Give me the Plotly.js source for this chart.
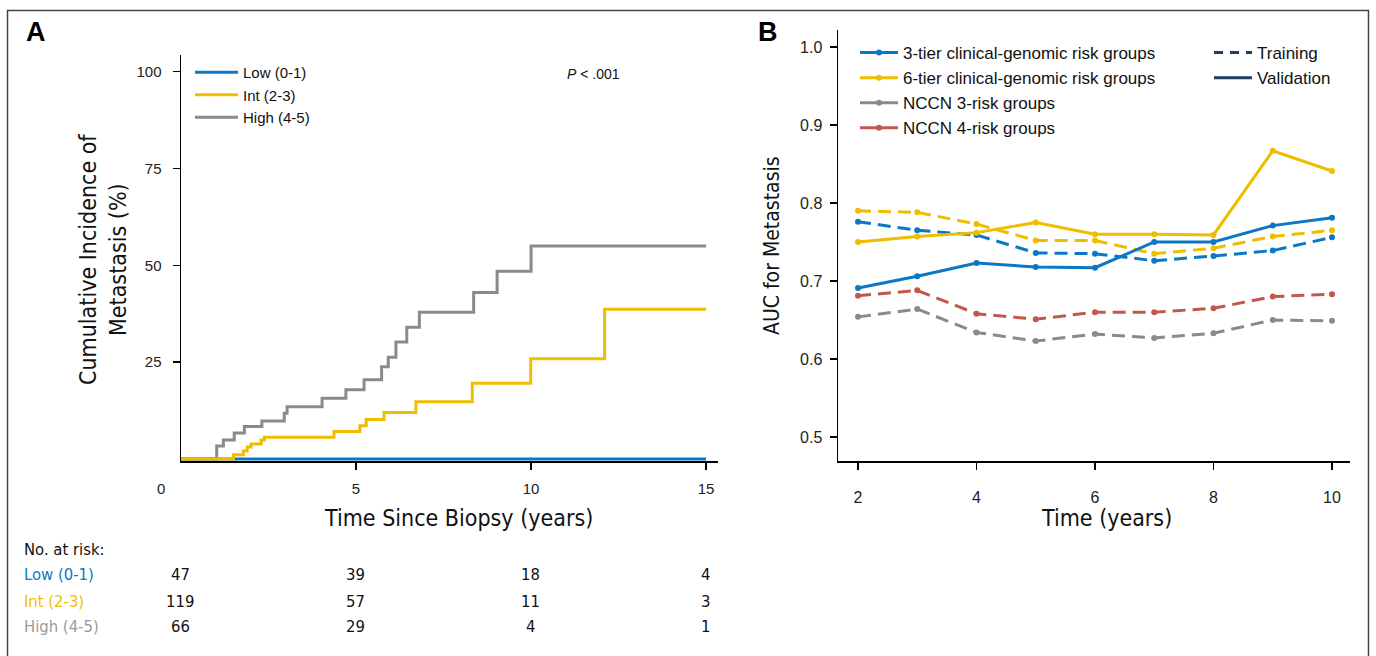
<!DOCTYPE html>
<html>
<head>
<meta charset="utf-8">
<script src="https://cdn.plot.ly/plotly-3.0.1.min.js"></script>
<style>html,body{margin:0;padding:0;background:#fff;}#chart{width:1376px;height:656px;}</style>
</head>
<body>
<div id="chart"></div>
<script>
// ---------- Panel A: cumulative incidence (step curves) ----------
const timeLow = [0, 15];
const incLow  = [0, 0];
const timeInt = [0, 1.5, 1.78, 1.89, 2.0, 2.29, 2.38, 4.37, 5.11, 5.29, 5.8, 6.71, 8.32, 9.99, 12.1, 15];
const incInt  = [0, 1.1, 2.1, 3.1, 3.9, 4.9, 5.6, 7.1, 8.6, 10.2, 12.0, 14.8, 19.6, 25.9, 38.7, 38.7];
const timeHigh = [0, 1.02, 1.21, 1.52, 1.81, 2.31, 2.95, 3.03, 4.03, 4.71, 5.23, 5.73, 5.92, 6.14, 6.45, 6.81, 8.36, 9.03, 10.0, 15];
const incHigh  = [0, 3.4, 4.9, 6.7, 8.4, 9.8, 11.8, 13.5, 15.7, 17.9, 20.5, 23.8, 26.3, 30.2, 34.0, 37.9, 43.0, 48.5, 55.0, 55.0];
const groupNames = ["Low (0-1)", "Int (2-3)", "High (4-5)"];

// Number at risk table
const riskTimes = [0, 5, 10, 15];
const riskLow  = [47, 39, 18, 4];
const riskInt  = [119, 57, 11, 3];
const riskHigh = [66, 29, 4, 1];

// ---------- Panel B: AUC over time ----------
const years = [2, 3, 4, 5, 6, 7, 8, 9, 10];
const tier3Train = [0.776, 0.765, 0.759, 0.736, 0.735, 0.726, 0.732, 0.739, 0.756];
const tier3Valid = [0.691, 0.706, 0.723, 0.718, 0.717, 0.750, 0.750, 0.771, 0.781];
const tier6Train = [0.790, 0.788, 0.773, 0.752, 0.752, 0.735, 0.742, 0.757, 0.765];
const tier6Valid = [0.750, 0.757, 0.762, 0.775, 0.760, 0.760, 0.759, 0.867, 0.841];
const nccn3Train = [0.654, 0.664, 0.634, 0.623, 0.632, 0.627, 0.633, 0.650, 0.649];
const nccn4Train = [0.681, 0.688, 0.658, 0.651, 0.660, 0.660, 0.665, 0.680, 0.683];
const seriesNames = ["3-tier clinical-genomic risk groups", "6-tier clinical-genomic risk groups", "NCCN 3-risk groups", "NCCN 4-risk groups"];
const cohortNames = ["Training", "Validation"];

// ---------- styling ----------
const W = 1376, H = 656;
const BLUE = "#0b78c4", YEL = "#efbd00", GREY = "#8a8a8a", RED = "#c2584d", NAVY = "#1b3d63";
const SANS = "Liberation Sans, Arial, Helvetica, sans-serif";
const NARROW = "Liberation Sans Narrow, Arial Narrow, DejaVu Sans Condensed, Roboto, sans-serif";
const px = v => v / W;
const py = v => 1 - v / H;
const DASH = "13px,7px";

const traces = [];
// Panel A
traces.push({x: timeLow, y: incLow, type: "scatter", mode: "lines", line: {color: BLUE, width: 3, shape: "hv"}, name: groupNames[0], xaxis: "x", yaxis: "y", legend: "legend", legendgroup: "a1", hoverinfo: "skip"});
traces.push({x: timeHigh, y: incHigh, type: "scatter", mode: "lines", line: {color: GREY, width: 3, shape: "hv"}, name: groupNames[2], xaxis: "x", yaxis: "y", legend: "legend", showlegend: false, hoverinfo: "skip"});
traces.push({x: timeInt, y: incInt, type: "scatter", mode: "lines", line: {color: YEL, width: 3, shape: "hv"}, name: groupNames[1], xaxis: "x", yaxis: "y", legend: "legend", showlegend: false, hoverinfo: "skip"});
// legend-only entries in order Low, Int, High
traces.push({x: [null], y: [null], type: "scatter", mode: "lines", line: {color: YEL, width: 3}, name: groupNames[1], xaxis: "x", yaxis: "y", legend: "legend", legendgroup: "a2"});
traces.push({x: [null], y: [null], type: "scatter", mode: "lines", line: {color: GREY, width: 3}, name: groupNames[2], xaxis: "x", yaxis: "y", legend: "legend", legendgroup: "a3"});

// Panel B - data lines
const bLine = (y, color, dash) => ({x: years, y: y, type: "scatter", mode: "lines+markers", line: {color: color, width: 3, dash: dash}, marker: {color: color, size: 6}, xaxis: "x2", yaxis: "y2", showlegend: false, hoverinfo: "skip"});
traces.push(bLine(nccn3Train, GREY, DASH));
traces.push(bLine(nccn4Train, RED, DASH));
traces.push(bLine(tier6Train, YEL, DASH));
traces.push(bLine(tier3Train, BLUE, DASH));
traces.push(bLine(tier6Valid, YEL, "solid"));
traces.push(bLine(tier3Valid, BLUE, "solid"));
// Panel B legend entries
[BLUE, YEL, GREY, RED].forEach((c, i) => {
  traces.push({x: [null], y: [null], type: "scatter", mode: "lines+markers", line: {color: c, width: 3}, marker: {color: c, size: 6}, name: seriesNames[i], xaxis: "x2", yaxis: "y2", legend: "legend2", legendgroup: "b" + i});
});
traces.push({x: [null], y: [null], type: "scatter", mode: "lines", line: {color: NAVY, width: 3, dash: "9px,7px"}, name: cohortNames[0], xaxis: "x2", yaxis: "y2", legend: "legend3", legendgroup: "c0"});
traces.push({x: [null], y: [null], type: "scatter", mode: "lines", line: {color: NAVY, width: 3}, name: cohortNames[1], xaxis: "x2", yaxis: "y2", legend: "legend3", legendgroup: "c1"});

const annotations = [];
const ann = (o) => annotations.push(Object.assign({showarrow: false, xref: "paper", yref: "paper"}, o));
// panel letters
ann({text: "<b>A</b>", x: px(24), y: py(32), xanchor: "left", yanchor: "middle", font: {family: SANS, size: 27, color: "#000"}});
ann({text: "<b>B</b>", x: px(756), y: py(32), xanchor: "left", yanchor: "middle", font: {family: SANS, size: 27, color: "#000"}});
// axis titles
ann({text: "Time Since Biopsy (years)", x: px(458), y: py(518), xanchor: "center", yanchor: "middle", font: {family: NARROW, size: 23, color: "#111"}});
ann({text: "Cumulative Incidence of<br>Metastasis (%)", x: px(103), y: py(259), xanchor: "center", yanchor: "middle", textangle: -90, font: {family: NARROW, size: 23, color: "#111"}});
ann({text: "Time (years)", x: px(1106), y: py(518), xanchor: "center", yanchor: "middle", font: {family: NARROW, size: 23, color: "#111"}});
ann({text: "AUC for Metastasis", x: px(772), y: py(246), xanchor: "center", yanchor: "middle", textangle: -90, font: {family: NARROW, size: 21, color: "#111"}});
// origin label, p-value
ann({text: "0", x: px(161), y: py(488), xanchor: "center", yanchor: "middle", font: {family: SANS, size: 15, color: "#222"}});
ann({text: "<i>P</i> &lt; .001", x: px(593), y: py(74), xanchor: "center", yanchor: "middle", font: {family: SANS, size: 14, color: "#111"}});
// risk table
ann({text: "No. at risk:", x: px(22), y: py(549), xanchor: "left", yanchor: "middle", font: {family: NARROW, size: 16.5, color: "#111"}});
const rowY = [574, 601, 626];
const rowCol = [BLUE, YEL, "#9a9a9a"];
const rowVals = [riskLow, riskInt, riskHigh];
rowY.forEach((yy, r) => {
  ann({text: groupNames[r], x: px(22), y: py(yy), xanchor: "left", yanchor: "middle", font: {family: NARROW, size: 16.5, color: rowCol[r]}});
  riskTimes.forEach((t, k) => {
    annotations.push({showarrow: false, xref: "x", yref: "paper", x: t, y: py(yy), xanchor: "center", yanchor: "middle", xshift: -1, text: String(rowVals[r][k]), font: {family: NARROW, size: 16.5, color: "#111"}});
  });
});

const axisCommon = {showline: true, linecolor: "#000", linewidth: 1.5, ticks: "outside", ticklen: 7, tickwidth: 1.5, tickcolor: "#000", showgrid: false, zeroline: false, fixedrange: true, layer: "below traces"};

const layout = {
  width: W, height: H,
  margin: {l: 0, r: 0, t: 0, b: 0},
  paper_bgcolor: "#fff", plot_bgcolor: "rgba(0,0,0,0)",
  showlegend: true,
  xaxis: Object.assign({}, axisCommon, {domain: [px(181), px(718)], range: [0, 15.34], tickvals: [5, 10, 15], ticktext: ["5", "10", "15"], tickfont: {family: SANS, size: 15, color: "#222"}, anchor: "y", ticklabelstandoff: 6}),
  yaxis: Object.assign({}, axisCommon, {domain: [py(461), py(55)], range: [-0.5, 104.3], tickvals: [25, 50, 75, 100], tickfont: {family: SANS, size: 15, color: "#222"}, anchor: "x", ticklabelstandoff: 8}),
  xaxis2: Object.assign({}, axisCommon, {domain: [px(838), px(1350)], range: [1.662, 10.304], tickvals: [2, 4, 6, 8, 10], tickfont: {family: SANS, size: 16, color: "#222"}, anchor: "y2", ticklabelstandoff: 14}),
  yaxis2: Object.assign({}, axisCommon, {domain: [py(461), py(30)], range: [0.4692, 1.0218], tickvals: [0.5, 0.6, 0.7, 0.8, 0.9, 1.0], tickformat: ".1f", tickfont: {family: SANS, size: 16, color: "#222"}, anchor: "x2", ticklabelstandoff: 4}),
  legend: {x: px(190), y: py(56), xanchor: "left", yanchor: "top", bgcolor: "rgba(0,0,0,0)", borderwidth: 0, font: {family: SANS, size: 15, color: "#111"}, tracegroupgap: 0, traceorder: "grouped", itemwidth: 43},
  legend2: {x: px(855), y: py(35), xanchor: "left", yanchor: "top", bgcolor: "rgba(0,0,0,0)", borderwidth: 0, font: {family: SANS, size: 17, color: "#111"}, tracegroupgap: 0, traceorder: "grouped", itemwidth: 38},
  legend3: {x: px(1209), y: py(35), xanchor: "left", yanchor: "top", bgcolor: "rgba(0,0,0,0)", borderwidth: 0, font: {family: SANS, size: 17, color: "#111"}, tracegroupgap: 0, traceorder: "grouped", itemwidth: 38},
  annotations: annotations,
  shapes: [
    {type: "rect", xref: "paper", yref: "paper", x0: px(7.5), x1: px(1368.5), y0: -0.05, y1: py(10.5), line: {color: "#444", width: 1.5}, fillcolor: "rgba(0,0,0,0)", layer: "below"}
  ]
};

Plotly.newPlot("chart", traces, layout, {staticPlot: true, displayModeBar: false});
</script>
</body>
</html>
